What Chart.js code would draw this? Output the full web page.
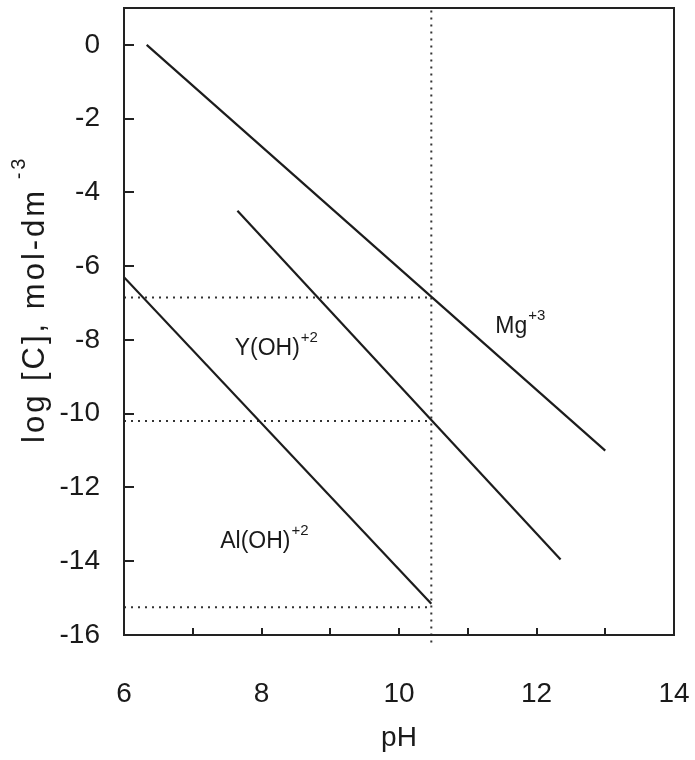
<!DOCTYPE html>
<html>
<head>
<meta charset="utf-8">
<script src="https://cdn.jsdelivr.net/npm/chart.js@4.4.0/dist/chart.umd.min.js"></script>
<style>
  html, body { margin: 0; padding: 0; background: #fff; }
</style>
</head>
<body>
<canvas id="solubility-canvas" width="695" height="760"></canvas>
<script>
// solubility lines
const mgPH = [6.33, 13.0];
const mgLogC = [0, -11.0];
const yohPH = [7.65, 12.35];
const yohLogC = [-4.5, -13.95];
const alohPH = [6.0, 10.47];
const alohLogC = [-6.3, -15.15];

// dotted guide lines
const refPH = 10.47;
const refLevels = [-6.85, -10.2, -15.25];

// axes
const xTickLabels = [6, 8, 10, 12, 14];
const xMinorTicks = [6, 7, 8, 9, 10, 11, 12, 13, 14];
const yTickLabels = [0, -2, -4, -6, -8, -10, -12, -14, -16];

// species labels: [text, superscript, pH, logC]
const speciesLabels = [
  ["Mg", "+3", 11.40, -7.80],
  ["Y(OH)", "+2", 7.61, -8.40],
  ["Al(OH)", "+2", 7.40, -13.63]
];

const toPoints = (xs, ys) => xs.map((x, i) => ({ x: x, y: ys[i] }));

const solidLine = (pts) => ({
  data: pts,
  showLine: true,
  borderColor: "#1c1c1c",
  borderWidth: 2.2,
  pointRadius: 0,
  fill: false
});

const dottedLine = (pts) => ({
  data: pts,
  showLine: true,
  borderColor: "#333",
  borderWidth: 2,
  borderDash: [2, 5],
  pointRadius: 0,
  fill: false,
  clip: false
});

const datasets = [
  solidLine(toPoints(mgPH, mgLogC)),
  solidLine(toPoints(yohPH, yohLogC)),
  solidLine(toPoints(alohPH, alohLogC)),
  dottedLine([{ x: refPH, y: -16.2 }, { x: refPH, y: 1 }])
];
refLevels.forEach((lv) => {
  datasets.push(dottedLine([{ x: 6, y: lv }, { x: refPH, y: lv }]));
});

const FONT = "'Liberation Sans', Arial, Helvetica, sans-serif";

// fixed box sizes so the plot area lands where it is in the figure
const fixBox = (w, h) => (scale) => {
  if (w !== null) scale.width = w;
  if (h !== null) scale.height = h;
  scale.paddingLeft = 0;
  scale.paddingRight = 0;
  scale.paddingTop = 0;
  scale.paddingBottom = 0;
};

const framePlugin = {
  id: "frame",
  afterDraw(chart) {
    const ctx = chart.ctx;
    const a = chart.chartArea;
    const xs = chart.scales.x;
    const ys = chart.scales.y;
    ctx.save();
    ctx.strokeStyle = "#222";
    ctx.lineWidth = 2;
    ctx.strokeRect(a.left, a.top, a.right - a.left, a.bottom - a.top);

    // inward ticks
    ctx.beginPath();
    xMinorTicks.forEach((v) => {
      const px = Math.round(xs.getPixelForValue(v));
      ctx.moveTo(px, a.bottom);
      ctx.lineTo(px, a.bottom - 7);
    });
    yTickLabels.forEach((v) => {
      const py = Math.round(ys.getPixelForValue(v));
      ctx.moveTo(a.left, py);
      ctx.lineTo(a.left + 10, py);
    });
    ctx.stroke();

    // species labels
    ctx.fillStyle = "#1a1a1a";
    ctx.textBaseline = "alphabetic";
    ctx.textAlign = "left";
    speciesLabels.forEach(([txt, sup, x, y]) => {
      const px = xs.getPixelForValue(x);
      const py = ys.getPixelForValue(y);
      ctx.font = "23px " + FONT;
      ctx.fillText(txt, px, py);
      const w = ctx.measureText(txt).width;
      ctx.font = "15px " + FONT;
      ctx.fillText(sup, px + w + 1, py - 13);
    });

    // x title
    ctx.font = "28px " + FONT;
    ctx.textAlign = "center";
    ctx.fillText("pH", (a.left + a.right) / 2, 746);

    // y title, rotated
    ctx.translate(44, 443);
    ctx.rotate(-Math.PI / 2);
    ctx.textAlign = "left";
    ctx.letterSpacing = "3px";
    ctx.font = "31px " + FONT;
    const main = "log [C], mol-dm";
    ctx.fillText(main, 0, 0);
    const mw = ctx.measureText(main).width;
    ctx.font = "20px " + FONT;
    ctx.fillText(" -3", mw, -19);
    ctx.restore();
  }
};

new Chart(document.getElementById("solubility-canvas"), {
  type: "scatter",
  data: { datasets: datasets },
  options: {
    responsive: false,
    animation: false,
    layout: { padding: { top: 8, right: 21, left: 0, bottom: 0 } },
    plugins: { legend: { display: false }, tooltip: { enabled: false } },
    scales: {
      x: {
        type: "linear",
        min: 6,
        max: 14,
        grid: { display: false },
        border: { display: false },
        afterBuildTicks: (scale) => { scale.ticks = xTickLabels.map((v) => ({ value: v })); },
        afterFit: fixBox(null, 125),
        ticks: {
          color: "#1a1a1a",
          font: { family: FONT, size: 28 },
          padding: 34,
          maxRotation: 0
        }
      },
      y: {
        type: "linear",
        min: -16,
        max: 1,
        grid: { display: false },
        border: { display: false },
        afterBuildTicks: (scale) => { scale.ticks = yTickLabels.map((v) => ({ value: v })); },
        afterFit: fixBox(124, null),
        ticks: {
          color: "#1a1a1a",
          font: { family: FONT, size: 28 },
          padding: 16
        }
      }
    }
  },
  plugins: [framePlugin]
});
</script>
</body>
</html>
